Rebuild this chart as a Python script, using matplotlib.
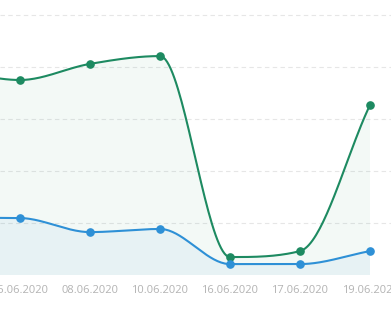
import numpy as np
import matplotlib
matplotlib.use("Agg")
import matplotlib.pyplot as plt

# data (first point sits left of the visible area)
dates = ["04.06.2020", "05.06.2020", "08.06.2020", "10.06.2020",
         "16.06.2020", "17.06.2020", "19.06.2020"]
green_vals = [79, 75, 81.2, 84.2, 6.9, 9.2, 65.4]
blue_vals = [22, 21.9, 16.5, 17.7, 4.2, 4.2, 9.2]

GREEN = "#1d8a61"
BLUE = "#2e90d6"
PX_X = 70.0   # pixels per category step
PX_Y = 2.6    # pixels per value unit


def monotone(xs, ys, n=40):
    # monotone cubic interpolation (Fritsch-Carlson, like chart.js 'monotone')
    x = np.array(xs, float)
    y = np.array(ys, float)
    m = len(x)
    dx = np.diff(x)
    delta = np.diff(y) / dx
    mk = np.zeros(m)
    mk[0] = delta[0]
    mk[-1] = delta[-1]
    for i in range(1, m - 1):
        if delta[i - 1] * delta[i] <= 0:
            mk[i] = 0
        else:
            mk[i] = (delta[i - 1] + delta[i]) / 2
    for i in range(m - 1):
        if delta[i] == 0:
            mk[i] = mk[i + 1] = 0
            continue
        a = mk[i] / delta[i]
        b = mk[i + 1] / delta[i]
        sq = a * a + b * b
        if sq > 9:
            tau = 3 / np.sqrt(sq)
            mk[i] = tau * a * delta[i]
            mk[i + 1] = tau * b * delta[i]
    outx, outy = [], []
    t = np.linspace(0, 1, n)
    for i in range(m - 1):
        h = dx[i]
        h00 = 2 * t ** 3 - 3 * t ** 2 + 1
        h10 = t ** 3 - 2 * t ** 2 + t
        h01 = -2 * t ** 3 + 3 * t ** 2
        h11 = t ** 3 - t ** 2
        outx.extend(x[i] + t * h)
        outy.extend(h00 * y[i] + h10 * h * mk[i] + h01 * y[i + 1] + h11 * h * mk[i + 1])
    return np.array(outx), np.array(outy)


fig = plt.figure(figsize=(3.91, 3.26), dpi=100)
ax = fig.add_axes([0, (326 - 275) / 326, 1, 275 / 326])

idx = np.arange(len(dates))
gx, gy = monotone(idx, green_vals)
bx, by = monotone(idx, blue_vals)

ax.fill_between(gx, gy, 0, color=GREEN, alpha=0.05, lw=0)
ax.fill_between(bx, by, 0, color=BLUE, alpha=0.06, lw=0)
ax.plot(gx, gy, color=GREEN, lw=1.5, zorder=3)
ax.plot(bx, by, color=BLUE, lw=1.5, zorder=3)
ax.plot(idx, green_vals, "o", color=GREEN, ms=5.2, zorder=4)
ax.plot(idx, blue_vals, "o", color=BLUE, ms=5.2, zorder=4)

ax.set_yticks([20, 40, 60, 80, 100])
ax.yaxis.grid(True, color="#e6e6e6", linestyle=(0, (4, 3)), lw=0.8)
ax.set_axisbelow(True)
ax.set_xticks(idx)
ax.set_xticklabels(dates, fontsize=8, color="#b3b3b3", family="Open Sans")
ax.tick_params(axis="x", length=0, pad=7)
ax.tick_params(axis="y", length=0, labelleft=False)
ax.set_xlim(1 - 20 / PX_X, 1 + (391 - 20) / PX_X)
ax.set_ylim(0, 275 / PX_Y)
for s in ax.spines.values():
    s.set_visible(False)

fig.savefig("out.png", dpi=100)
